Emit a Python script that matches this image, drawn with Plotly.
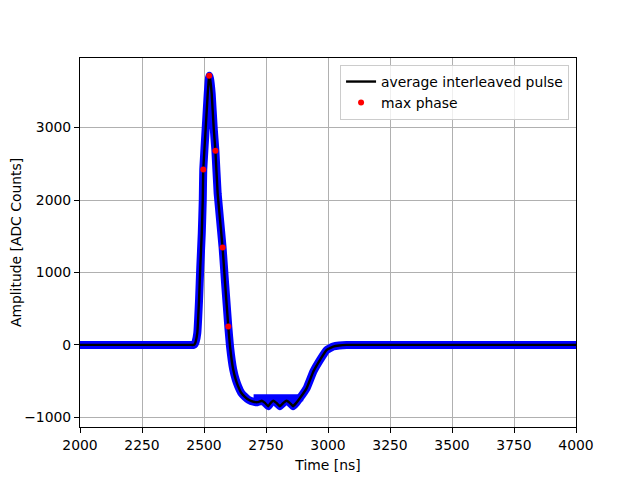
import plotly.graph_objects as go

# Average interleaved pulse (time in ns, amplitude in ADC counts)
pulse_t = [2000, 2200, 2400, 2445, 2458, 2462, 2466, 2473, 2480, 2485, 2491, 2495, 2497, 2507, 2515, 2519, 2521,
           2524, 2531, 2539, 2546, 2555, 2575, 2585, 2598, 2605, 2618, 2628, 2638, 2650, 2665, 2680, 2699,
           2716, 2733, 2746, 2759, 2769, 2779, 2792, 2806, 2820, 2833, 2846, 2859, 2872, 2887, 2914, 2941,
           2968, 2995, 3021, 3045, 3075, 3150, 3400, 3700, 4000]
pulse_a = [0, 0, 0, 0, 0, 10, 40, 165, 619, 1073, 1541, 1995, 2422, 3000, 3468, 3650, 3715,
           3680, 3468, 3000, 2679, 2092, 1344, 853, 252, -23, -344, -480, -574, -660, -716, -758, -784,
           -790, -771, -800, -846, -800, -771, -800, -846, -800, -771, -800, -846, -800, -733, -596, -367,
           -206, -69, -23, -8, 0, 0, 0, 0, 0]

# Upper edge of the spread of the individual samples in the undershoot plateau
plateau_t = [2700, 2900]
plateau_top = [-730, -730]

# Max phase samples
max_t = [2497, 2521, 2546, 2575, 2598]
max_a = [2422, 3715, 2679, 1344, 255]

x_ticks = [2000, 2250, 2500, 2750, 3000, 3250, 3500, 3750, 4000]
y_ticks = [-1000, 0, 1000, 2000, 3000]

FONT = "DejaVu Sans"
BLUE = "#0000ff"

fig = go.Figure()
fig.add_trace(go.Scatter(x=pulse_t, y=pulse_a, mode="lines",
                         line=dict(color=BLUE, width=8, shape="spline", smoothing=0.3),
                         showlegend=False, hoverinfo="skip"))
fig.add_trace(go.Scatter(x=plateau_t, y=plateau_top, mode="lines",
                         line=dict(color=BLUE, width=7), showlegend=False, hoverinfo="skip"))
fig.add_trace(go.Scatter(x=pulse_t, y=pulse_a, mode="lines",
                         line=dict(color="black", width=2.4, shape="spline", smoothing=0.3),
                         name="average interleaved pulse"))
fig.add_trace(go.Scatter(x=max_t, y=max_a, mode="markers",
                         marker=dict(color="red", size=6),
                         name="max phase"))

axis_common = dict(
    showline=True, linecolor="black", linewidth=1.1, mirror=True,
    ticks="outside", ticklen=5, tickwidth=1.1, tickcolor="black",
    showgrid=True, gridcolor="#b0b0b0", gridwidth=1.1,
    zeroline=False, automargin=False,
    tickfont=dict(family=FONT, size=13.9, color="black"),
)

# The page body adds an 8px offset; size and margins compensate for it
fig.update_layout(
    width=632, height=472,
    margin=dict(l=72, r=64, t=50, b=53),
    paper_bgcolor="white", plot_bgcolor="white",
    font=dict(family=FONT, size=13.9, color="black"),
    xaxis=dict(range=[2000, 4000], tickvals=x_ticks,
               title=dict(text="Time [ns]", font=dict(family=FONT, size=13.9), standoff=8),
               **axis_common),
    yaxis=dict(range=[-1133, 3960], tickvals=y_ticks,
               title=dict(text="Amplitude [ADC Counts]", font=dict(family=FONT, size=13.9), standoff=8),
               **axis_common),
    legend=dict(x=0.986, y=0.981, xanchor="right", yanchor="top",
                bgcolor="rgba(255,255,255,0.8)", bordercolor="#cccccc", borderwidth=1,
                font=dict(family=FONT, size=13.9), tracegroupgap=0),
    showlegend=True,
)

fig.write_html("out.html")
